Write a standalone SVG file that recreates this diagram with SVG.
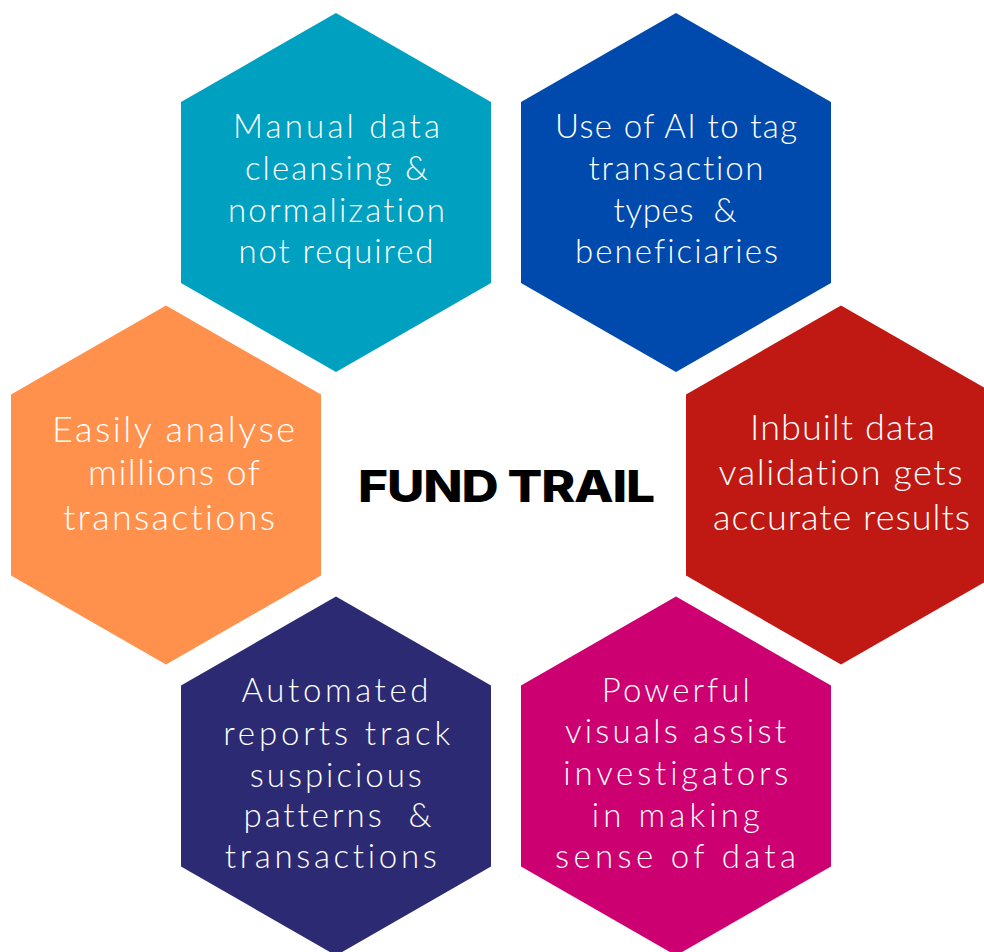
<svg xmlns="http://www.w3.org/2000/svg" width="984" height="952" viewBox="0 0 984 952">
  <defs>
    <!-- regular hexagon, pointy top, centred on origin -->
    <polygon id="hex" points="0,-179.5 155,-90.5 155,90.5 0,179.5 -155,90.5 -155,-90.5"/>
    <style>
      .lbl { font-family: Lato, "Open Sans", sans-serif; font-weight: 300; font-size: 33px; fill: #ffffff; text-anchor: middle; font-variant-ligatures: none; }
      .big { font-size: 36px; }
      .title { font-family: Inter, "Liberation Sans", sans-serif; font-weight: 800; font-size: 44px; fill: #000000; text-anchor: middle; letter-spacing: -1px; }
    </style>
  </defs>
  <rect width="984" height="952" fill="#ffffff"/>

  <g id="connectors"></g>

  <g id="node-cleansing">
    <use href="#hex" x="336" y="192.5" fill="#00A0C1"/>
    <text class="lbl" x="336.5" y="138" textLength="207" lengthAdjust="spacing">Manual data</text>
    <text class="lbl" x="336.5" y="180" textLength="183" lengthAdjust="spacing">cleansing &amp;</text>
    <text class="lbl" x="336.5" y="222" textLength="217" lengthAdjust="spacing">normalization</text>
    <text class="lbl" x="336" y="263" textLength="195" lengthAdjust="spacing">not required</text>
  </g>

  <g id="node-ai-tagging">
    <use href="#hex" x="676" y="192.5" fill="#004AAD"/>
    <text class="lbl" x="676" y="138" textLength="242" lengthAdjust="spacing">Use of AI to tag</text>
    <text class="lbl" x="676" y="180" textLength="175" lengthAdjust="spacing">transaction</text>
    <text class="lbl" x="675" y="222" textLength="123" lengthAdjust="spacing" xml:space="preserve">types  &amp;</text>
    <text class="lbl" x="676.5" y="263" textLength="203" lengthAdjust="spacing">beneficiaries</text>
  </g>

  <g id="node-analyse">
    <use href="#hex" x="166" y="485" fill="#FF914D"/>
    <text class="lbl big" x="173.5" y="442" textLength="243" lengthAdjust="spacing">Easily analyse</text>
    <text class="lbl big" x="174" y="485" textLength="172" lengthAdjust="spacing">millions of</text>
    <text class="lbl big" x="169" y="530" textLength="212" lengthAdjust="spacing">transactions</text>
  </g>

  <g id="node-validation">
    <use href="#hex" x="841" y="485" fill="#C01812"/>
    <text class="lbl big" x="842.5" y="440" textLength="185" lengthAdjust="spacing">Inbuilt data</text>
    <text class="lbl big" x="840.5" y="485" textLength="244" lengthAdjust="spacing">validation gets</text>
    <text class="lbl big" x="841.5" y="530" textLength="257" lengthAdjust="spacing">accurate results</text>
  </g>

  <g id="node-reports">
    <use href="#hex" x="336" y="776" fill="#2C2A72"/>
    <text class="lbl" x="335" y="702" textLength="187" lengthAdjust="spacing">Automated</text>
    <text class="lbl" x="336.7" y="745" textLength="227" lengthAdjust="spacing">reports track</text>
    <text class="lbl" x="335.8" y="787" textLength="172" lengthAdjust="spacing">suspicious</text>
    <text class="lbl" x="337.5" y="827" textLength="188" lengthAdjust="spacing" xml:space="preserve">patterns  &amp;</text>
    <text class="lbl" x="330.8" y="868" textLength="212" lengthAdjust="spacing">transactions</text>
  </g>

  <g id="node-visuals">
    <use href="#hex" x="676" y="776" fill="#CC0070"/>
    <text class="lbl" x="675.8" y="702" textLength="148" lengthAdjust="spacing">Powerful</text>
    <text class="lbl" x="675.5" y="743" textLength="221" lengthAdjust="spacing">visuals assist</text>
    <text class="lbl" x="675.8" y="785" textLength="225" lengthAdjust="spacing">investigators</text>
    <text class="lbl" x="675.8" y="827" textLength="168" lengthAdjust="spacing">in making</text>
    <text class="lbl" x="675.5" y="868" textLength="241" lengthAdjust="spacing">sense of data</text>
  </g>

  <g id="title" transform="translate(506,502) scale(1.17,1)">
    <text class="title" x="0" y="0">FUND TRAIL</text>
  </g>
</svg>
